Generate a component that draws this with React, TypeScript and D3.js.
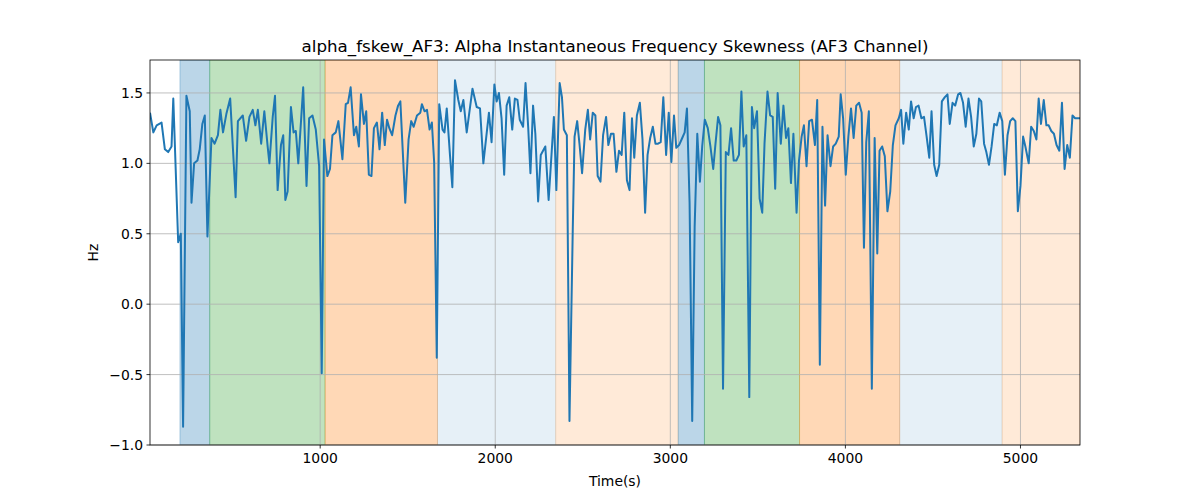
import React from "react";
import * as d3 from "d3";

const times = [28,47,66,94,113,132,151,161,189,204,217,236,255,265,280,299,312,327,341,356,379,397,416,430,445,464,486,517,530,558,577,596,615,630,644,663,681,700,710,729,742,757,776,789,801,814,833,848,861,875,903,922,937,956,975,994,1009,1022,1041,1056,1070,1089,1104,1127,1146,1159,1174,1193,1206,1221,1233,1250,1263,1278,1293,1307,1324,1339,1354,1369,1382,1395,1411,1430,1445,1458,1486,1505,1520,1534,1553,1572,1581,1596,1610,1625,1638,1651,1666,1680,1699,1710,1723,1742,1755,1770,1789,1803,1818,1837,1870,1894,1913,1932,1964,1979,1995,2008,2021,2036,2051,2065,2080,2097,2112,2127,2140,2159,2173,2188,2201,2216,2229,2245,2260,2286,2305,2335,2349,2368,2381,2392,2409,2424,2443,2453,2468,2481,2496,2514,2529,2542,2557,2572,2585,2601,2616,2633,2646,2661,2676,2692,2707,2722,2737,2752,2767,2781,2794,2809,2826,2841,2856,2870,2885,2900,2915,2930,2945,2960,2976,2991,3006,3021,3034,3050,3068,3082,3095,3110,3125,3139,3154,3169,3182,3197,3214,3229,3245,3258,3273,3286,3301,3317,3332,3347,3362,3377,3392,3406,3419,3434,3451,3466,3479,3495,3510,3525,3538,3555,3570,3585,3599,3613,3631,3646,3661,3674,3689,3703,3721,3735,3750,3763,3778,3793,3809,3826,3839,3854,3869,3884,3898,3915,3930,3945,3962,3973,3987,4002,4017,4032,4047,4062,4078,4093,4106,4119,4134,4151,4167,4182,4195,4210,4225,4240,4256,4271,4286,4305,4318,4331,4347,4362,4375,4390,4403,4418,4434,4449,4464,4479,4492,4507,4521,4536,4551,4568,4583,4596,4612,4627,4644,4657,4672,4687,4703,4718,4733,4748,4763,4776,4792,4805,4820,4835,4850,4865,4881,4896,4911,4926,4941,4956,4971,4985,5000,5015,5028,5047,5061,5076,5091,5104,5117,5133,5148,5161,5176,5191,5206,5222,5237,5252,5267,5282,5297,5312,5340];
const values = [1.36,1.22,1.27,1.29,1.10,1.08,1.12,1.46,0.44,0.50,-0.87,1.48,1.37,0.72,1.00,1.02,1.10,1.28,1.34,0.48,1.18,1.14,1.20,1.38,1.22,1.35,1.46,0.76,1.30,1.34,1.16,1.33,1.38,1.27,1.38,1.14,1.37,1.12,1.00,1.33,1.48,0.81,1.13,1.20,0.74,0.80,1.40,1.22,1.23,1.00,1.54,0.84,1.32,1.34,1.24,0.98,-0.49,1.17,0.91,0.96,1.20,1.22,1.30,1.03,1.42,1.43,1.54,1.20,1.26,1.12,1.49,1.28,1.37,0.92,0.91,1.25,1.29,1.10,1.36,1.13,1.31,1.25,1.20,1.34,1.41,1.44,0.72,1.17,1.30,1.26,1.34,1.36,1.42,1.37,1.38,1.24,1.29,1.01,-0.38,1.42,1.24,1.22,1.39,1.05,0.83,1.59,1.45,1.37,1.45,1.22,1.53,1.40,1.39,1.00,1.36,1.15,1.56,1.44,1.50,1.32,0.92,1.41,1.47,1.24,1.46,1.45,1.31,1.26,1.57,1.26,0.93,1.41,1.21,0.73,1.06,1.12,0.74,1.33,0.81,1.57,1.47,1.24,1.20,-0.83,0.55,1.19,1.30,1.14,0.93,1.24,1.38,1.17,1.36,1.34,0.91,0.87,1.20,1.33,1.13,1.21,1.21,0.94,1.09,1.06,1.36,0.88,0.81,1.32,1.04,1.34,1.43,1.17,0.65,1.06,1.18,1.26,1.14,1.14,1.15,1.47,1.06,1.36,1.01,1.34,1.11,1.13,1.18,1.22,1.39,0.72,-0.83,0.55,1.21,0.87,1.12,1.31,1.25,1.12,0.96,1.14,1.33,1.27,-0.60,1.08,1.06,1.25,1.02,1.02,1.06,1.51,1.12,1.20,-0.66,1.40,1.25,1.37,0.75,0.65,1.14,1.51,1.34,1.33,0.82,1.50,1.14,1.41,1.18,1.25,0.86,1.21,0.65,1.02,1.19,1.27,0.98,1.30,1.31,1.13,1.45,-0.43,1.26,0.70,1.20,0.98,1.12,1.14,1.19,1.49,1.32,0.92,1.19,1.39,1.18,1.41,1.43,1.36,0.40,1.15,1.37,-0.60,1.18,0.36,1.09,1.12,1.05,0.66,0.80,1.13,1.27,1.32,1.38,1.14,1.36,1.24,1.44,1.32,1.40,1.41,1.32,1.33,1.19,1.04,1.37,0.99,0.91,0.99,1.44,1.47,1.49,1.28,1.43,1.41,1.49,1.50,1.43,1.26,1.46,1.33,1.12,1.21,1.46,1.44,1.14,1.08,0.99,1.12,1.28,1.27,1.36,1.30,0.92,1.20,1.30,1.32,1.30,0.66,0.84,1.19,1.12,1.00,1.26,1.23,1.17,1.46,1.28,1.45,1.27,1.27,1.23,1.21,1.13,1.09,1.43,0.96,1.13,1.04,1.34,1.32,1.32];

const bandStarts = [199, 369, 1028, 1670, 2345, 3045, 3195, 3738, 4310, 4895];
const bandEnds = [369, 1028, 1670, 2345, 3045, 3195, 3738, 4310, 4895, 5340];
const bandColors = ["#1f77b4", "#2ca02c", "#ff7f0e", "#1f77b4", "#ff7f0e", "#1f77b4", "#2ca02c", "#ff7f0e", "#1f77b4", "#ff7f0e"];
const bandAlphas = [0.3, 0.3, 0.3, 0.11, 0.16, 0.3, 0.3, 0.3, 0.11, 0.16];
const xTicks = [1000, 2000, 3000, 4000, 5000];
const yTicks = [-1.0, -0.5, 0.0, 0.5, 1.0, 1.5];

export default function App() {
  const W = 1200, H = 500;
  const m = { l: 150, r: 1080, t: 60, b: 445 };
  const x = d3.scaleLinear().domain([28, 5340]).range([m.l, m.r]);
  const y = d3.scaleLinear().domain([-1.0, 1.734]).range([m.b, m.t]);
  const line = d3.line<number>().x((_, i) => x(times[i])).y((v) => y(v));
  const font = "DejaVu Sans, sans-serif";
  return (
    <svg width={W} height={H} style={{ position: "absolute", left: 0, top: 0, background: "#fff" }} fontFamily={font}>
      <defs>
        <clipPath id="clip"><rect x={m.l} y={m.t} width={m.r - m.l} height={m.b - m.t} /></clipPath>
      </defs>
      <g clipPath="url(#clip)">
        {bandStarts.map((s, i) => (
          <rect key={i} x={x(s)} y={m.t} width={x(bandEnds[i]) - x(s)} height={m.b - m.t}
            fill={bandColors[i]} fillOpacity={bandAlphas[i]}
            stroke={bandColors[i]} strokeOpacity={bandAlphas[i]} strokeWidth={1} />
        ))}
      </g>
      {xTicks.map((t) => (
        <line key={t} x1={x(t)} x2={x(t)} y1={m.t} y2={m.b} stroke="#b0b0b0" strokeWidth={0.8} />
      ))}
      {yTicks.map((t) => (
        <line key={t} x1={m.l} x2={m.r} y1={y(t)} y2={y(t)} stroke="#b0b0b0" strokeWidth={0.8} />
      ))}
      <path d={line(values) || ""} fill="none" stroke="#1f77b4" strokeWidth={2} clipPath="url(#clip)" strokeLinejoin="round" />
      <rect x={m.l} y={m.t} width={m.r - m.l} height={m.b - m.t} fill="none" stroke="#000" strokeWidth={0.8} />
      {xTicks.map((t) => (
        <g key={t}>
          <line x1={x(t)} x2={x(t)} y1={m.b} y2={m.b + 3.5} stroke="#000" strokeWidth={0.8} />
          <text x={x(t)} y={m.b + 18} textAnchor="middle" fontSize={13.9} fill="#000">{t}</text>
        </g>
      ))}
      {yTicks.map((t) => (
        <g key={t}>
          <line x1={m.l - 3.5} x2={m.l} y1={y(t)} y2={y(t)} stroke="#000" strokeWidth={0.8} />
          <text x={m.l - 7} y={y(t) + 5} textAnchor="end" fontSize={13.9} fill="#000">{d3.format(".1f")(t).replace("-", "−")}</text>
        </g>
      ))}
      <text x={(m.l + m.r) / 2} y={486} textAnchor="middle" fontSize={13.9}>Time(s)</text>
      <text transform={`translate(98,${(m.t + m.b) / 2}) rotate(-90)`} textAnchor="middle" fontSize={13.9}>Hz</text>
      <text x={(m.l + m.r) / 2} y={52} textAnchor="middle" fontSize={16.7}>alpha_fskew_AF3: Alpha Instantaneous Frequency Skewness (AF3 Channel)</text>
    </svg>
  );
}
